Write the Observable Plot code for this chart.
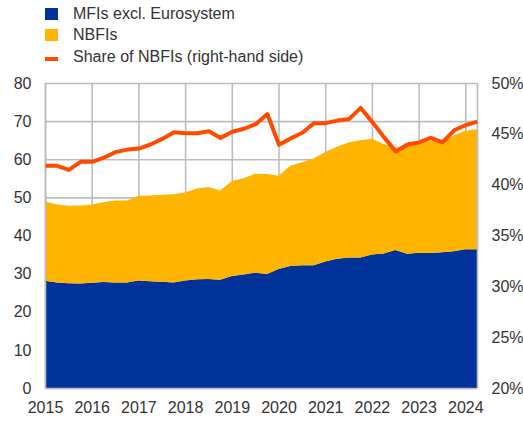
<!DOCTYPE html>
<html>
<head>
<meta charset="utf-8">
<script src="https://cdn.jsdelivr.net/npm/d3@7"></script>
<script src="https://cdn.jsdelivr.net/npm/@observablehq/plot@0.6"></script>
<style>
  html, body { margin: 0; padding: 0; background: #fff; }
  body { width: 523px; height: 421px; overflow: hidden; font-family: "Liberation Sans", Arial, sans-serif; }
  #legend { height: 70px; box-sizing: border-box; padding-top: 3px; }
  .row { height: 21.5px; display: flex; align-items: center; font-size: 16px; color: #333; position: relative; }
  .sw { position: absolute; left: 45px; width: 13px; height: 12px; }
  .ln { position: absolute; left: 45px; width: 13px; height: 4px; top: 11px; }
  .lbl { position: absolute; left: 73px; white-space: nowrap; }
</style>
</head>
<body>
<div id="legend"></div>
<div id="chart"></div>
<script>
// Quarterly observations, 2015 Q1 – 2024 Q2
const quarters = [
  "2015 Q1","2015 Q2","2015 Q3","2015 Q4",
  "2016 Q1","2016 Q2","2016 Q3","2016 Q4",
  "2017 Q1","2017 Q2","2017 Q3","2017 Q4",
  "2018 Q1","2018 Q2","2018 Q3","2018 Q4",
  "2019 Q1","2019 Q2","2019 Q3","2019 Q4",
  "2020 Q1","2020 Q2","2020 Q3","2020 Q4",
  "2021 Q1","2021 Q2","2021 Q3","2021 Q4",
  "2022 Q1","2022 Q2","2022 Q3","2022 Q4",
  "2023 Q1","2023 Q2","2023 Q3","2023 Q4",
  "2024 Q1","2024 Q2"
];
// MFIs excl. Eurosystem (left-hand scale)
const mfis = [
  28.1, 27.7, 27.5, 27.4, 27.6, 27.8, 27.7, 27.7,
  28.2, 28.0, 27.9, 27.7, 28.2, 28.5, 28.6, 28.4,
  29.4, 29.8, 30.2, 29.9, 31.2, 32.0, 32.2, 32.2,
  33.2, 33.9, 34.2, 34.2, 35.0, 35.3, 36.2, 35.2,
  35.5, 35.4, 35.6, 35.9, 36.4, 36.4
];
// NBFIs (left-hand scale, stacked on MFIs)
const nbfis = [
  20.8, 20.4, 20.3, 20.5, 20.5, 20.9, 21.5, 21.5,
  22.2, 22.5, 22.8, 23.1, 23.1, 23.8, 24.1, 23.4,
  24.9, 25.2, 26.0, 26.2, 24.5, 26.3, 27.0, 28.0,
  28.7, 29.4, 30.2, 30.8, 30.4, 28.7, 26.8, 28.6,
  29.0, 29.4, 29.4, 30.3, 31.1, 31.5
];
// Share of NBFIs, % (right-hand scale)
const shareNBFI = [
  41.9, 41.9, 41.5, 42.3, 42.3, 42.7, 43.25, 43.5,
  43.6, 44.0, 44.55, 45.2, 45.1, 45.1, 45.3, 44.65,
  45.25, 45.55, 46.0, 47.0, 43.97, 44.6, 45.15, 46.1,
  46.1, 46.35, 46.5, 47.6, 46.2, 44.7, 43.3, 44.0,
  44.2, 44.65, 44.2, 45.4, 45.9, 46.25
];
const yearTicks = [2015, 2016, 2017, 2018, 2019, 2020, 2021, 2022, 2023, 2024];
const leftTicks = [0, 10, 20, 30, 40, 50, 60, 70, 80];
const rightTicks = [20, 25, 30, 35, 40, 45, 50];
const seriesNames = ["MFIs excl. Eurosystem", "NBFIs", "Share of NBFIs (right-hand side)"];
const colors = ["#003299", "#ffb400", "#ff4b00"];

// right-hand scale (20%–50%) mapped onto left-hand scale (0–80)
const toLeft = p => (p - 20) * 80 / 30;
const fromLeft = v => v * 30 / 80 + 20;

const rows = quarters.map((q, i) => {
  const [yr, qq] = q.split(" Q");
  return { t: +yr + (+qq - 1) / 4, mfi: mfis[i], nbfi: nbfis[i], share: shareNBFI[i] };
});

// legend
const legend = document.getElementById("legend");
seriesNames.forEach((name, i) => {
  const row = document.createElement("div");
  row.className = "row";
  const sw = document.createElement("div");
  sw.className = i < 2 ? "sw" : "ln";
  sw.style.background = colors[i];
  const lbl = document.createElement("span");
  lbl.className = "lbl";
  lbl.textContent = name;
  row.appendChild(sw);
  row.appendChild(lbl);
  legend.appendChild(row);
});

const gridColor = "#bdbdbd";
const chart = Plot.plot({
  width: 523,
  height: 351,
  marginLeft: 45,
  marginRight: 46,
  marginTop: 13,
  marginBottom: 33,
  style: { fontFamily: "'Liberation Sans', Arial, sans-serif", fontSize: "16px", color: "#333", background: "#fff", overflow: "visible" },
  x: { type: "linear", domain: [2015, 2024.25] },
  y: { domain: [0, 80] },
  marks: [
    Plot.gridX(yearTicks, { stroke: gridColor, strokeOpacity: 1, strokeWidth: 1.6 }),
    Plot.gridY(leftTicks, { stroke: gridColor, strokeOpacity: 1, strokeWidth: 1.6 }),
    Plot.areaY(rows, { x: "t", y1: 0, y2: "mfi", fill: colors[0] }),
    Plot.areaY(rows, { x: "t", y1: "mfi", y2: d => d.mfi + d.nbfi, fill: colors[1] }),
    Plot.ruleX([2015, 2024.25], { stroke: gridColor, strokeWidth: 1.6 }),
    Plot.ruleY([0], { stroke: gridColor, strokeWidth: 1.6 }),
    Plot.line(rows, { x: "t", y: d => toLeft(d.share), stroke: colors[2], strokeWidth: 4, strokeLinejoin: "round", strokeLinecap: "butt" }),
    Plot.axisX(yearTicks, { tickSize: 0, tickPadding: 13, tickFormat: d => String(d), label: null }),
    Plot.axisY(leftTicks, { anchor: "left", tickSize: 0, tickPadding: 14, label: null }),
    Plot.axisY(rightTicks.map(toLeft), { anchor: "right", tickSize: 0, tickPadding: 14, tickFormat: v => Math.round(fromLeft(v)) + "%", label: null })
  ]
});
document.getElementById("chart").appendChild(chart);
</script>
</body>
</html>
